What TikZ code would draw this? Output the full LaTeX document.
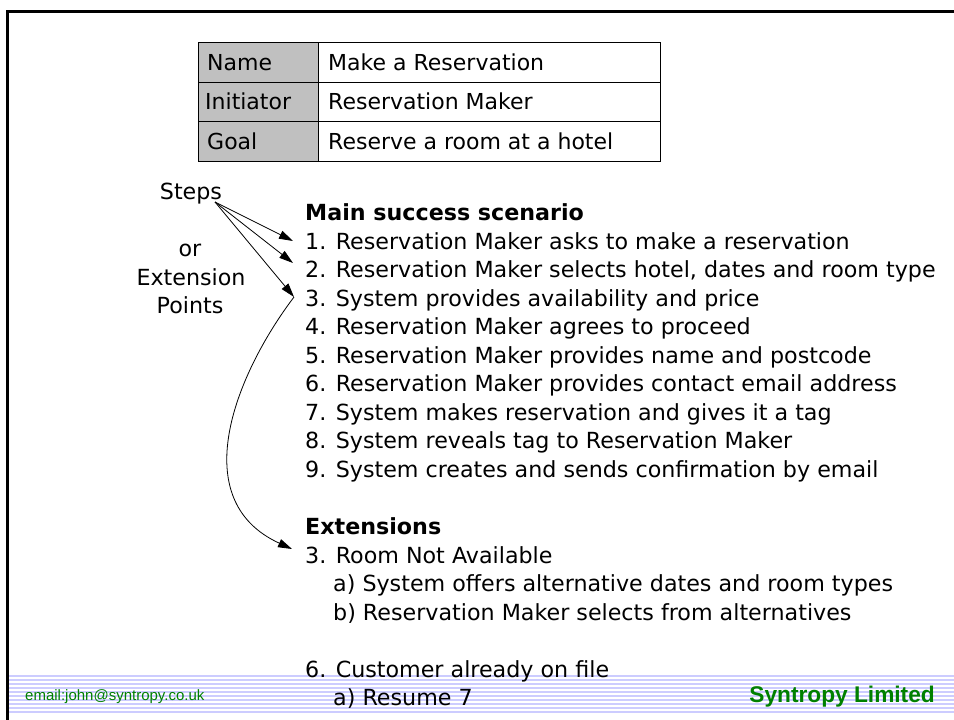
\documentclass[tikz,border=0pt]{standalone}
\usepackage{fontspec}
\setmainfont{DejaVu Sans}
\newfontfamily\arialfont{Liberation Sans}
\usetikzlibrary{arrows.meta}
\definecolor{stripe}{RGB}{204,204,255}
\definecolor{sgreen}{RGB}{0,128,0}
\definecolor{cellgray}{RGB}{192,192,192}
\begin{document}
\begin{tikzpicture}[x=1pt,y=-1pt,
  txt/.style={anchor=base west,inner sep=0pt,font=\fontsize{22.2}{26}\selectfont},
  hd/.style={txt,font=\fontsize{22.2}{26}\selectfont\bfseries},
  lbl/.style={anchor=base,inner sep=0pt,font=\fontsize{22.2}{26}\selectfont},
  cell/.style={anchor=base west,inner sep=0pt,font=\fontsize{22}{26}\selectfont},
  arr/.style={-{Triangle[length=14pt,width=8.5pt]},line width=0.8pt},
  foot/.style={anchor=base west,inner sep=0pt,text=sgreen}]
\useasboundingbox (0,0) rectangle (954,720);
% footer stripes
\foreach \i in {0,...,9} \draw[stripe,line width=2pt] (8,676+\i*4) -- (954,676+\i*4);
% frame
\draw[line width=3pt] (954,11) -- (7,11) -- (7,720);
% table
\fill[cellgray] (198,42) rectangle (318,161);
\draw[line width=1pt] (198,42) rectangle (660,161);
\draw[line width=1pt] (198,82) -- (660,82) (198,121) -- (660,121) (318,42) -- (318,161);
\node[cell] (n1) at (207,70) {Name};
\node[cell] (n2) at (205,109) {Initiator};
\node[cell] (n3) at (207,149) {Goal};
\node[cell] (v1) at (328,70) {Make a Reservation};
\node[cell] (v2) at (328,109) {Reservation Maker};
\node[cell] (v3) at (328,149) {Reserve a room at a hotel};
% left labels
\node[lbl] (steps) at (191,199) {Steps};
\node[lbl] (or) at (190,256) {or};
\node[lbl] (ext) at (191,285) {Extension};
\node[lbl] (pts) at (190,313) {Points};
% main text
\node[hd] (mss) at (305,220.5) {Main success scenario};
\node[txt] (l1) at (305,249) {1. Reservation Maker asks to make a reservation};
\node[txt] (l2) at (305,277.5) {2. Reservation Maker selects hotel, dates and room type};
\node[txt] (l3) at (305,306) {3. System provides availability and price};
\node[txt] (l4) at (305,334.5) {4. Reservation Maker agrees to proceed};
\node[txt] (l5) at (305,363) {5. Reservation Maker provides name and postcode};
\node[txt] (l6) at (305,391.5) {6. Reservation Maker provides contact email address};
\node[txt] (l7) at (305,420) {7. System makes reservation and gives it a tag};
\node[txt] (l8) at (305,448.5) {8. System reveals tag to Reservation Maker};
\node[txt] (l9) at (305,477) {9. System creates and sends confirmation by email};
\node[hd] (exts) at (305,534) {Extensions};
\node[txt] (e1) at (305,563) {3. Room Not Available};
\node[txt] (e1a) at (333,591.5) {a) System offers alternative dates and room types};
\node[txt] (e1b) at (333,620) {b) Reservation Maker selects from alternatives};
\node[txt] (e2) at (305,677) {6. Customer already on file};
\node[txt] (e2a) at (333,705.5) {a) Resume 7};
% footer text
\node[foot,font=\arialfont\fontsize{15}{18}\selectfont] (mail) at (25,700) {email:john@syntropy.co.uk};
\node[foot,font=\arialfont\fontsize{22.7}{26}\selectfont\bfseries,anchor=base east] (corp) at (935,702) {Syntropy Limited};
% arrows
\coordinate (so) at (215,202);
\coordinate (t1) at (293,241);
\coordinate (t2) at (293,263);
\coordinate (t3) at (294,297);
\coordinate (t4) at (292,549);
\draw[arr] (so) -- (t1);
\draw[arr] (so) -- (t2);
\draw[arr] (so) -- (t3);
\draw[arr] (t3) .. controls (235,375) and (185,500) .. (t4);
\end{tikzpicture}
\end{document}
